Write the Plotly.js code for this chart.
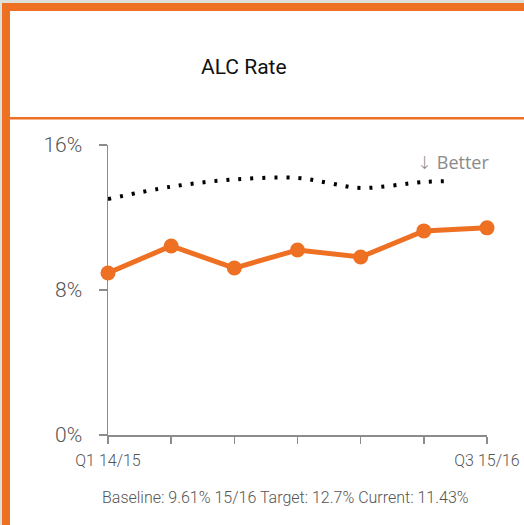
<!DOCTYPE html>
<html>
<head>
<meta charset="utf-8">
<script src="https://cdn.plot.ly/plotly-3.0.1.min.js"></script>
<style>html,body{margin:0;padding:0;background:#fff;}#chart{width:524px;height:525px;}</style>
</head>
<body>
<div id="chart"></div>
<script>
// ---- data ----
const quarters = ['Q1 14/15','Q2 14/15','Q3 14/15','Q4 14/15','Q1 15/16','Q2 15/16','Q3 15/16'];
const tickLabels = ['Q1 14/15','','','','','','Q3 15/16'];
const alcRate = [8.94, 10.43, 9.21, 10.21, 9.82, 11.26, 11.43];
const targetX = [0, 1, 2, 3, 3.5, 4, 5, 5.45];
const targetY = [13.02, 13.70, 14.10, 14.18, 13.90, 13.63, 13.96, 14.01];
const yTicks = [0, 8, 16];
const yTickLabels = ['0%', '8%', '16%'];
const chartTitle = 'ALC Rate';
const footnote = 'Baseline: 9.61% 15/16 Target: 12.7% Current: 11.43%';
const betterArrow = '↓';
const betterLabel = 'Better';

// ---- layout helpers ----
const W = 524, H = 525;
const mL = 108, mR = 37, mT = 145, mB = 90;
const pw = W - mL - mR, ph = H - mT - mB;
const px = x => (x - mL) / pw;
const py = y => (H - mB - y) / ph;

const ORANGE = '#ee7023';
const narrow = 'Roboto, "Noto Sans", sans-serif';

const xIdx = quarters.map((_, i) => i);

const traces = [
  {
    x: targetX, y: targetY, type: 'scatter', mode: 'lines',
    line: {color: '#000', width: 4, dash: '3px,9px', shape: 'spline', smoothing: 1},
    hoverinfo: 'skip', cliponaxis: false
  },
  {
    x: xIdx, y: alcRate, type: 'scatter', mode: 'lines+markers',
    line: {color: ORANGE, width: 5},
    marker: {color: ORANGE, size: 15},
    cliponaxis: false
  }
];

const shapes = [
  {type:'rect', xref:'paper', yref:'paper', x0:px(0), x1:px(2), y0:py(0), y1:py(H), fillcolor:'#dde0d8', line:{width:0}, layer:'below'},
  {type:'rect', xref:'paper', yref:'paper', x0:px(0), x1:px(W), y0:py(0), y1:py(3), fillcolor:'#dde0d8', line:{width:0}, layer:'below'},
  {type:'rect', xref:'paper', yref:'paper', x0:px(2), x1:px(10), y0:py(3), y1:py(H), fillcolor:ORANGE, line:{width:0}},
  {type:'rect', xref:'paper', yref:'paper', x0:px(2), x1:px(W), y0:py(3), y1:py(11), fillcolor:ORANGE, line:{width:0}},
  {type:'rect', xref:'paper', yref:'paper', x0:px(10), x1:px(W), y0:py(117), y1:py(119.5), fillcolor:ORANGE, line:{width:0}}
];

const annotations = [
  {text: chartTitle, xref:'paper', yref:'paper', x:px(244), y:py(67), xanchor:'center', yanchor:'middle', showarrow:false,
   font:{family: narrow, size: 21, color:'#111'}},
  {text: '<span style="font-family:\'DejaVu Sans\';font-weight:300">' + betterArrow + '</span> ' + betterLabel,
   xref:'paper', yref:'paper', x:px(453), y:py(162), xanchor:'center', yanchor:'middle', showarrow:false,
   font:{family:'"Open Sans", "Noto Sans", sans-serif', size: 18, color:'#8a8a8a'}},
  {text: footnote, xref:'paper', yref:'paper', x:px(285), y:py(497), xanchor:'center', yanchor:'middle', showarrow:false,
   font:{family: narrow, size: 16, weight: 300, color:'#555'}}
];

const layout = {
  width: W, height: H,
  margin: {l: mL, r: mR, t: mT, b: mB, pad: 0},
  paper_bgcolor: '#fff', plot_bgcolor: '#fff',
  showlegend: false,
  xaxis: {
    range: [0, 6], tickvals: xIdx, ticktext: tickLabels,
    showgrid: false, zeroline: false, showline: true, linecolor: '#8c8c8c', linewidth: 1.5,
    ticks: 'outside', ticklen: 7, tickwidth: 1.5, tickcolor: '#8c8c8c',
    ticklabelstandoff: 3,
    tickfont: {family: narrow, size: 16, weight: 300, color: '#555'}, fixedrange: true
  },
  yaxis: {
    range: [0, 16], tickvals: yTicks, ticktext: yTickLabels,
    showgrid: false, zeroline: false, showline: true, linecolor: '#8c8c8c', linewidth: 1.5,
    ticks: 'outside', ticklen: 8, tickwidth: 1.5, tickcolor: '#8c8c8c',
    ticklabelstandoff: 12,
    tickfont: {family: narrow, size: 21, weight: 300, color: '#555'}, fixedrange: true
  },
  shapes: shapes,
  annotations: annotations
};

Plotly.newPlot('chart', traces, layout, {displayModeBar: false, staticPlot: true});
</script>
</body>
</html>
